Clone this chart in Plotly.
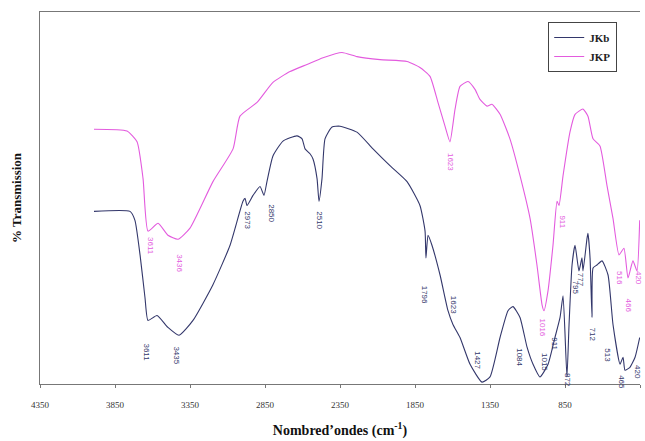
import plotly.graph_objects as go

# JKb spectrum (wavenumber cm-1, %T arbitrary scale)
jkb_wn = [3990, 3750, 3717, 3683, 3650, 3630, 3570, 3497, 3423, 3330, 3197, 3083, 2997, 2983, 2970, 2930,
          2883, 2857, 2837, 2797, 2730, 2637, 2603, 2583, 2550, 2530, 2503, 2490, 2470, 2450, 2403, 2350,
          2237, 2130, 2017, 1903, 1817, 1783, 1777, 1763, 1737, 1683, 1630, 1597, 1550, 1483, 1403, 1350,
          1283, 1230, 1197, 1150, 1103, 1063, 1017, 963, 917, 883, 863, 837, 823, 803, 783, 757, 737, 730,
          703, 697, 683, 670, 663, 637, 603, 563, 530, 483, 463, 450, 417, 383, 352]
jkb_t = [46.4, 46.4, 44.0, 34.7, 23.2, 17.1, 18.4, 15.2, 13.1, 17.1, 26.7, 37.3, 49.1, 49.9, 48.0, 50.7,
         53.1, 50.7, 54.4, 61.3, 65.3, 66.7, 65.9, 63.2, 61.9, 60.5, 55.2, 49.1, 55.2, 65.9, 69.1, 69.3,
         67.7, 63.2, 58.7, 54.4, 48.0, 41.1, 33.9, 40.0, 37.3, 29.3, 19.7, 16.0, 12.5, 5.3, 0.5, 1.9,
         12.5, 19.7, 20.8, 17.9, 9.9, 5.3, 1.9, 5.3, 12.5, 17.9, 23.7, 1.9, 16.0, 32.0, 37.3, 30.4, 33.9, 30.4,
         39.2, 40.5, 33.9, 17.9, 31.2, 32.0, 33.1, 29.3, 16.0, 5.3, 7.2, 3.7, 4.5, 7.2, 12.5]

# JKP spectrum
jkp_wn = [3990, 3770, 3703, 3663, 3630, 3563, 3497, 3430, 3350, 3197, 3063, 3017, 2903, 2797, 2683, 2570,
          2463, 2337, 2237, 2083, 1903, 1817, 1750, 1697, 1650, 1617, 1583, 1550, 1497, 1450, 1417, 1370,
          1337, 1283, 1217, 1150, 1083, 1037, 1003, 990, 963, 930, 903, 890, 863, 817, 783, 730, 697, 663,
          617, 570, 530, 490, 457, 430, 397, 370, 352]
jkp_t = [68.5, 68.0, 65.1, 55.2, 41.1, 43.2, 40.0, 38.9, 41.9, 54.4, 63.2, 72.0, 75.7, 81.1, 84.0, 85.9,
         87.7, 89.1, 88.0, 87.2, 86.7, 85.1, 82.7, 75.7, 69.3, 65.1, 73.9, 80.0, 81.3, 79.2, 76.5, 74.7,
         75.2, 72.5, 65.9, 56.0, 44.5, 32.0, 21.3, 19.7, 25.1, 37.3, 49.1, 48.0, 56.0, 67.7, 72.5, 73.9, 72.0, 65.9,
         64.0, 53.3, 44.5, 34.7, 36.5, 28.5, 33.1, 30.4, 44.0]

# peak labels
jkp_lab = ["3611", "3436", "1623", "1016", "911", "516", "466", "420"]
jkp_lab_wn = [3617, 3417, 1617, 997, 863, 490, 430, 363]
jkp_lab_t = [37.1, 32.5, 59.7, 15.2, 43.7, 28.5, 21.1, 28.5]

jkb_lab = ["3611", "3435", "2973", "2850", "2510", "1796", "1623", "1427", "1084", "1015", "911",
           "872", "795", "777", "712", "513", "465", "420"]
jkb_lab_wn = [3637, 3437, 2963, 2803, 2483, 1790, 1597, 1430, 1150, 983, 917, 837, 783, 750, 670, 563, 470, 363]
jkb_lab_t = [8.5, 7.7, 44.0, 45.9, 44.0, 24.0, 21.3, 6.4, 7.2, 5.9, 10.7, 1.1, 25.9, 28.0, 13.3, 7.7, 0.5, 3.2]

xticks = [4350, 3850, 3350, 2850, 2350, 1850, 1350, 850, 350]

NAVY = "#33376b"
PINK = "#e35bde"

fig = go.Figure()
fig.add_trace(go.Scatter(x=jkb_wn, y=jkb_t, mode="lines", name="<b>JKb</b>",
                         line=dict(color=NAVY, width=1.1, shape="spline", smoothing=0.5)))
fig.add_trace(go.Scatter(x=jkp_wn, y=jkp_t, mode="lines", name="<b>JKP</b>",
                         line=dict(color=PINK, width=1.1, shape="spline", smoothing=0.5)))

for t, x, y in zip(jkp_lab, jkp_lab_wn, jkp_lab_t):
    fig.add_annotation(x=x, y=y, text=t, showarrow=False, textangle=90,
                       font=dict(family="Liberation Sans", size=8, color=PINK))
for t, x, y in zip(jkb_lab, jkb_lab_wn, jkb_lab_t):
    fig.add_annotation(x=x, y=y, text=t, showarrow=False, textangle=90,
                       font=dict(family="Liberation Sans", size=8, color=NAVY))

fig.update_layout(
    width=645, height=441,
    margin=dict(l=40, r=5, t=12, b=54),
    paper_bgcolor="white", plot_bgcolor="white",
    showlegend=True,
    legend=dict(x=0.847, y=0.973, xanchor="left", yanchor="top",
                bgcolor="white", bordercolor="#444", borderwidth=1,
                font=dict(family="Liberation Serif", size=11, color="#222"),
                itemwidth=30, tracegroupgap=0),
    xaxis=dict(range=[4350, 350], tickvals=xticks, ticktext=[str(v) for v in xticks],
               showgrid=False, zeroline=False, showline=True, linecolor="#777", linewidth=1,
               mirror=True, ticks="outside", ticklen=3, tickcolor="#777", ticklabelstandoff=9,
               tickfont=dict(family="Liberation Serif", size=9, color="#333"),
               title=dict(text="<b>Nombred’ondes (cm<sup>-1</sup>)</b>", standoff=16,
                          font=dict(family="Liberation Serif", size=14, color="#111"))),
    yaxis=dict(range=[0, 100], showticklabels=False, showgrid=False, zeroline=False,
               showline=True, linecolor="#777", linewidth=1, ticks="",
               title=dict(text="<b>% Transmission</b>", standoff=14,
                          font=dict(family="Liberation Serif", size=13, color="#111"))),
)

fig.write_html("out.html")
